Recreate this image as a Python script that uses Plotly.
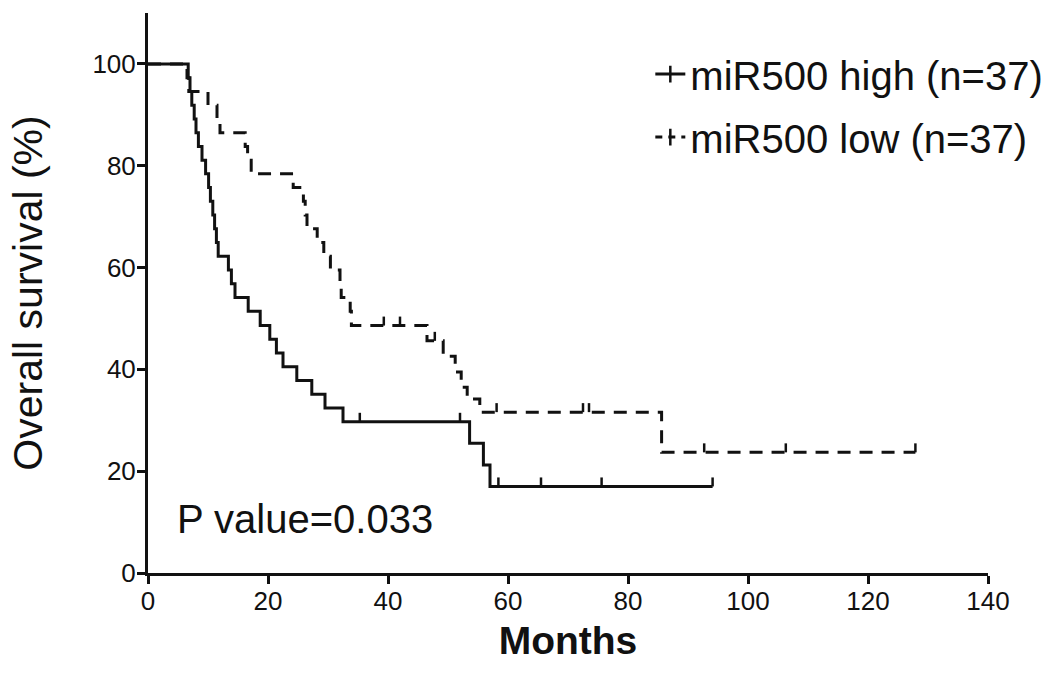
import plotly.graph_objects as go

# ---- data (Kaplan-Meier step points) ----
high_months = [0, 6.7, 7.0, 7.3, 7.7, 8.0, 8.4, 9.0, 9.6, 10.1, 10.4, 10.8, 11.1, 11.4, 11.7,
               13.4, 13.9, 14.5, 16.7, 18.7, 20.3, 21.4, 22.5, 24.8, 27.3, 29.5, 32.5,
               53.6, 55.9, 57.0, 94.1]
high_survival = [100, 97.3, 94.6, 91.9, 89.2, 86.5, 83.8, 81.1, 78.4, 75.7, 73.0, 70.3, 67.6, 64.9, 62.2,
                 59.5, 56.8, 54.1, 51.4, 48.6, 45.9, 43.2, 40.5, 37.8, 35.1, 32.4, 29.7,
                 25.5, 21.2, 17.0, 17.0]
high_censor_months = [35.3, 52.0, 58.4, 65.5, 75.6, 94.1]
high_censor_survival = [29.7, 29.7, 17.0, 17.0, 17.0, 17.0]

low_months = [0, 6.5, 6.8, 10.0, 11.5, 12.0, 16.2, 16.6, 17.2, 24.2, 25.9, 26.2, 26.5, 28.2,
              29.3, 30.4, 32.0, 32.2, 33.7, 33.9, 46.5, 49.2, 51.2, 52.2, 53.2, 55.3, 85.6, 127.9]
low_survival = [100, 97.3, 94.6, 91.9, 89.2, 86.5, 83.8, 81.1, 78.4, 75.7, 73.0, 70.3, 67.6, 64.9,
                62.2, 59.5, 56.8, 54.1, 51.4, 48.6, 45.6, 42.6, 39.5, 36.5, 34.2, 31.6, 23.7, 23.7]
low_censor_months = [39.3, 42.0, 47.8, 58.1, 72.5, 73.5, 92.7, 106.3, 127.9]
low_censor_survival = [48.6, 48.6, 45.6, 31.6, 31.6, 31.6, 23.7, 23.7, 23.7]

group_names = ["miR500 high (n=37)", "miR500 low (n=37)"]
x_ticks = [0, 20, 40, 60, 80, 100, 120, 140]
y_ticks = [0, 20, 40, 60, 80, 100]
p_text = "P value=0.033"

# ---- styling ----
INK = "#111111"
LW = 3
DASH = "13px,9px"
TEXT_FONT = "Liberation Sans, Arial, sans-serif"

fig = go.Figure()

groups = [
    (high_months, high_survival, high_censor_months, high_censor_survival, "solid"),
    (low_months, low_survival, low_censor_months, low_censor_survival, DASH),
]

shapes = []
for i, (mx, sy, cx, cy, dash) in enumerate(groups):
    fig.add_trace(go.Scatter(
        x=mx, y=sy, mode="lines",
        line=dict(shape="hv", color=INK, width=LW, dash=dash),
        showlegend=False, hoverinfo="skip"))
    for t, s in zip(cx, cy):
        shapes.append(dict(
            type="line", xref="x", yref="y", xsizemode="scaled",
            ysizemode="pixel", yanchor=s, x0=t, x1=t, y0=0, y1=9,
            line=dict(color=INK, width=2.5)))
    # legend entry
    fig.add_trace(go.Scatter(
        x=[None], y=[None], mode="lines+markers", name=group_names[i],
        legendgroup=f"g{i}",
        line=dict(color=INK, width=LW, dash=("solid" if dash == "solid" else "7px,6px")),
        marker=dict(symbol="line-ns", size=12, color=INK, line=dict(color=INK, width=2.5))))

fig.update_layout(
    width=1063, height=685,
    margin=dict(l=148, r=75, t=13, b=112, autoexpand=False),
    paper_bgcolor="white", plot_bgcolor="white",
    shapes=shapes,
    showlegend=True,
    legend=dict(
        x=0.598, y=0.949, xanchor="left", yanchor="top",
        font=dict(family=TEXT_FONT, size=40, color=INK),
        bgcolor="rgba(0,0,0,0)", itemwidth=30, tracegroupgap=8,
        traceorder="grouped"),
    xaxis=dict(
        range=[0, 140], tickvals=x_ticks, ticktext=[str(v) for v in x_ticks],
        showgrid=False, zeroline=False,
        showline=True, linecolor=INK, linewidth=3,
        ticks="outside", ticklen=8, tickwidth=2.5, tickcolor=INK,
        ticklabelstandoff=-5,
        tickfont=dict(family=TEXT_FONT, size=26, color=INK),
        title=dict(text="<b>Months</b>", standoff=12,
                   font=dict(family=TEXT_FONT, size=39, color=INK)),
        automargin=False),
    yaxis=dict(
        range=[0, 110], tickvals=y_ticks, ticktext=[str(v) for v in y_ticks],
        showgrid=False, zeroline=False,
        showline=True, linecolor=INK, linewidth=3,
        ticks="outside", ticklen=8, tickwidth=2.5, tickcolor=INK,
        ticklabelstandoff=-4,
        tickfont=dict(family=TEXT_FONT, size=26, color=INK),
        title=dict(text="Overall survival (%)", standoff=38,
                   font=dict(family=TEXT_FONT, size=41, color=INK)),
        automargin=False),
    annotations=[dict(
        text=p_text, xref="paper", yref="paper", x=0.032, y=0.097,
        xanchor="left", yanchor="middle", showarrow=False,
        font=dict(family=TEXT_FONT, size=40, color=INK))],
)

fig.write_html("out.html", config={"displayModeBar": False},
               post_script="document.body.style.margin='0';")
